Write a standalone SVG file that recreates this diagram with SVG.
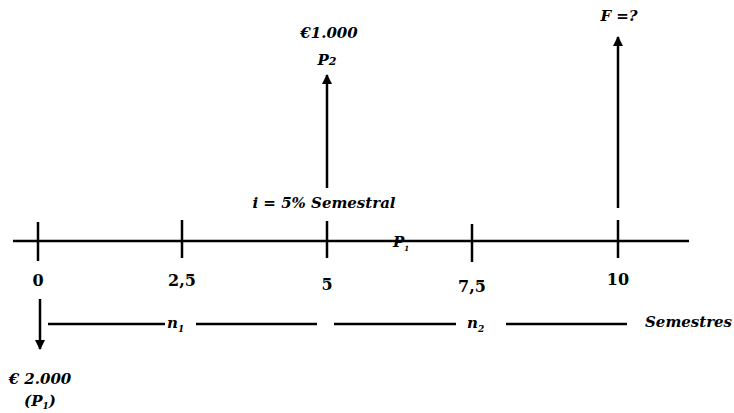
<svg xmlns="http://www.w3.org/2000/svg" width="734" height="413" viewBox="0 0 734 413">
<style>
.ln{stroke:#000;stroke-width:2.5;fill:none}
.t{font-family:"DejaVu Serif","Liberation Serif",serif;font-weight:bold;font-style:italic;font-size:15px;fill:#000}
.n{font-family:"DejaVu Serif","Liberation Serif",serif;font-weight:bold;font-size:16px;fill:#000}
</style>
<defs>
<marker id="ah" viewBox="0 0 10 10" refX="9" refY="5" markerWidth="4" markerHeight="4" orient="auto" markerUnits="strokeWidth">
<path d="M0,0 L10,5 L0,10 z" fill="#000"/>
</marker>
</defs>
<rect width="734" height="413" fill="#fff"/>
<g id="connectors">
<line class="ln" x1="13" y1="241" x2="689" y2="241"/>
<line class="ln" x1="327" y1="188" x2="327" y2="75" marker-end="url(#ah)"/>
<line class="ln" x1="618" y1="208" x2="618" y2="37" marker-end="url(#ah)"/>
<line class="ln" x1="40" y1="299" x2="40" y2="349" marker-end="url(#ah)"/>
<line class="ln" x1="48" y1="324" x2="165" y2="324"/>
<line class="ln" x1="196" y1="324" x2="317" y2="324"/>
<line class="ln" x1="334" y1="324" x2="456" y2="324"/>
<line class="ln" x1="506" y1="324" x2="627" y2="324"/>
</g>
<g id="tick0"><line class="ln" x1="38" y1="222" x2="38" y2="261"/><text class="n" x="38" y="286" text-anchor="middle">0</text></g>
<g id="tick25"><line class="ln" x1="182" y1="220" x2="182" y2="258"/><text class="n" x="182" y="286" text-anchor="middle">2,5</text></g>
<g id="tick5"><line class="ln" x1="327" y1="221" x2="327" y2="258"/><text class="n" x="327" y="290" text-anchor="middle">5</text></g>
<g id="tick75"><line class="ln" x1="472" y1="224" x2="472" y2="262"/><text class="n" x="472" y="292" text-anchor="middle">7,5</text></g>
<g id="tick10"><line class="ln" x1="618" y1="220" x2="618" y2="258"/><text class="n" x="618" y="285" text-anchor="middle">10</text></g>
<g id="p2"><text class="t" x="329" y="38" text-anchor="middle">€1.000</text><text class="t" x="327" y="65" text-anchor="middle">P<tspan font-size="11">2</tspan></text></g>
<g id="f"><text class="t" x="619" y="21" text-anchor="middle">F =?</text></g>
<g id="rate"><text class="t" x="324" y="208" text-anchor="middle">i = 5% Semestral</text></g>
<g id="p1mid"><text class="t" x="393" y="247" font-size="12">P<tspan font-size="7" dy="4">1</tspan></text></g>
<g id="p1"><text class="t" x="40" y="384" text-anchor="middle">€ 2.000</text><text class="t" x="40" y="406" text-anchor="middle">(P<tspan font-size="9" dy="3">1</tspan><tspan dy="-3">)</tspan></text></g>
<g id="n1"><text class="t" x="167" y="328">n<tspan font-size="9" dy="4">1</tspan></text></g>
<g id="n2"><text class="t" x="467" y="328">n<tspan font-size="9" dy="4">2</tspan></text></g>
<g id="sem"><text class="t" x="645" y="327">Semestres</text></g>
</svg>
